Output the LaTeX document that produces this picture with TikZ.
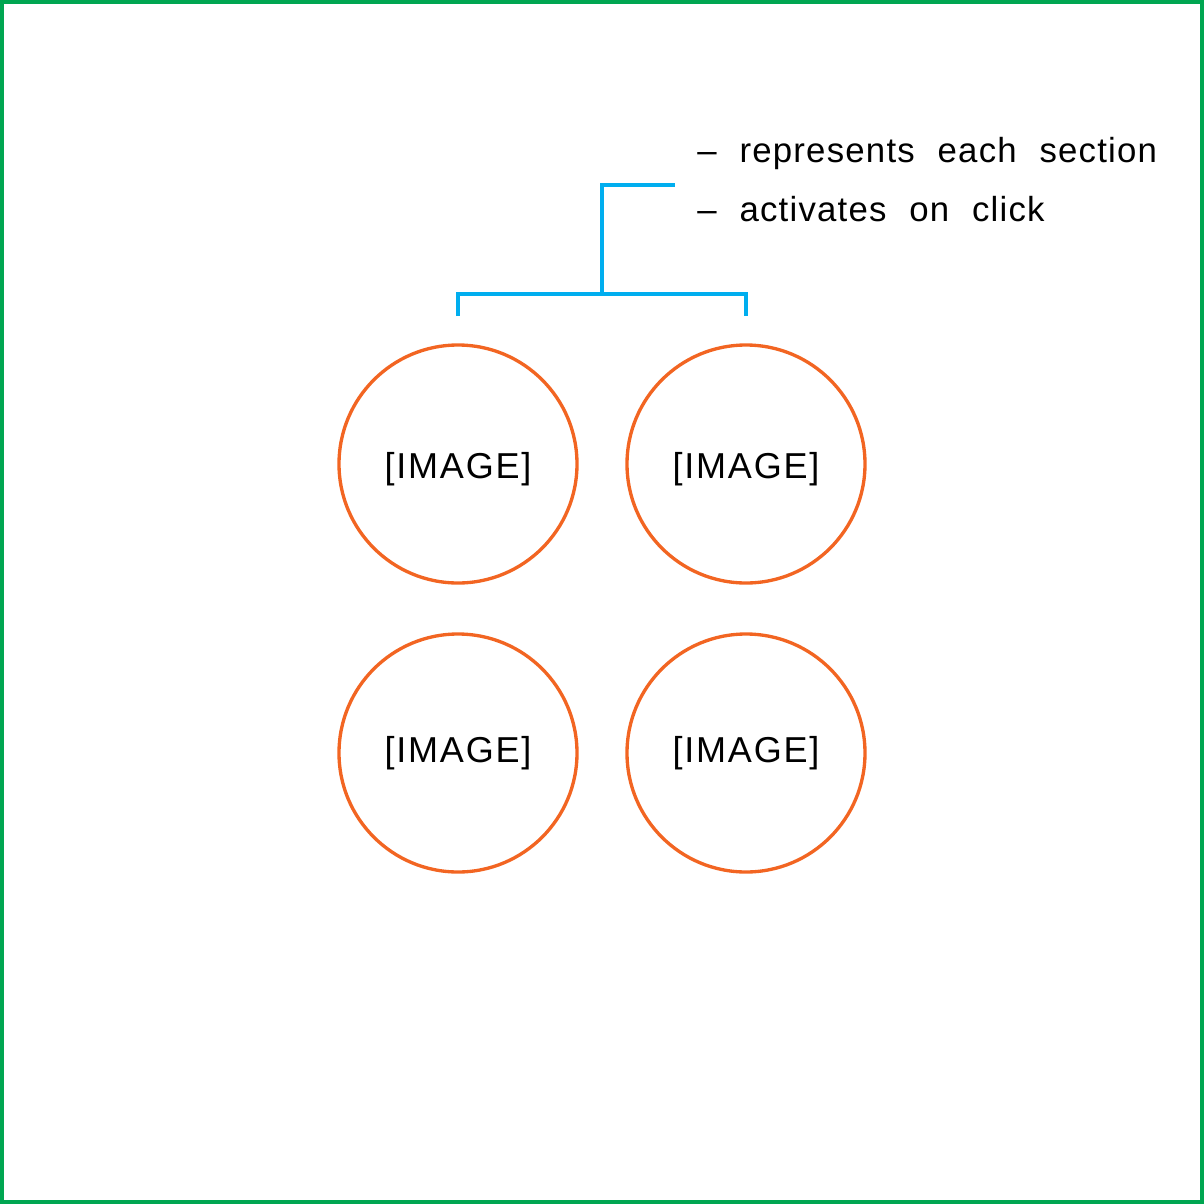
\documentclass[tikz,border=0pt]{standalone}
\usepackage{fontspec}
\setmainfont{Liberation Sans}
\definecolor{bordergreen}{HTML}{00A651}
\definecolor{circorange}{HTML}{F26522}
\definecolor{brackblue}{HTML}{00AEEF}
\begin{document}
\begin{tikzpicture}[x=0.02cm,y=-0.02cm,
  frame/.style={draw=bordergreen,line width=2.27pt},
  imgcirc/.style={circle,draw=circorange,line width=1.9pt,minimum size=238*0.02cm,inner sep=0pt,
    font=\fontsize{20.5pt}{24pt}\selectfont\addfontfeature{LetterSpace=5}},
  brack/.style={draw=brackblue,line width=2.1pt},
  note/.style={anchor=base west,inner sep=0pt,font=\fontsize{19.8pt}{24pt}\selectfont\addfontfeature{LetterSpace=3.5}}]
\useasboundingbox (0,0) rectangle (1204,1204);
\draw[frame] (2,2) rectangle (1202,1202);
\node[imgcirc] (c1) at (458,464) {\raisebox{-2.8pt}[\height][\depth]{[IMAGE]}};
\node[imgcirc] (c2) at (746,464) {\raisebox{-2.8pt}[\height][\depth]{[IMAGE]}};
\node[imgcirc] (c3) at (458,753) {[IMAGE]};
\node[imgcirc] (c4) at (746,753) {[IMAGE]};
\coordinate (bl) at (458,316);
\coordinate (br) at (746,316);
\coordinate (tip) at (675,185);
\draw[brack] (bl) |- (602,294) -| (br);
\draw[brack] (602,294) |- (tip);
\node[note] (n1) at (697,162) {–\hspace{13pt}represents\hspace{13pt}each\hspace{13pt}section};
\node[note] (n2) at (697,221) {–\hspace{13pt}activates\hspace{13pt}on\hspace{13pt}click};
\end{tikzpicture}
\end{document}
